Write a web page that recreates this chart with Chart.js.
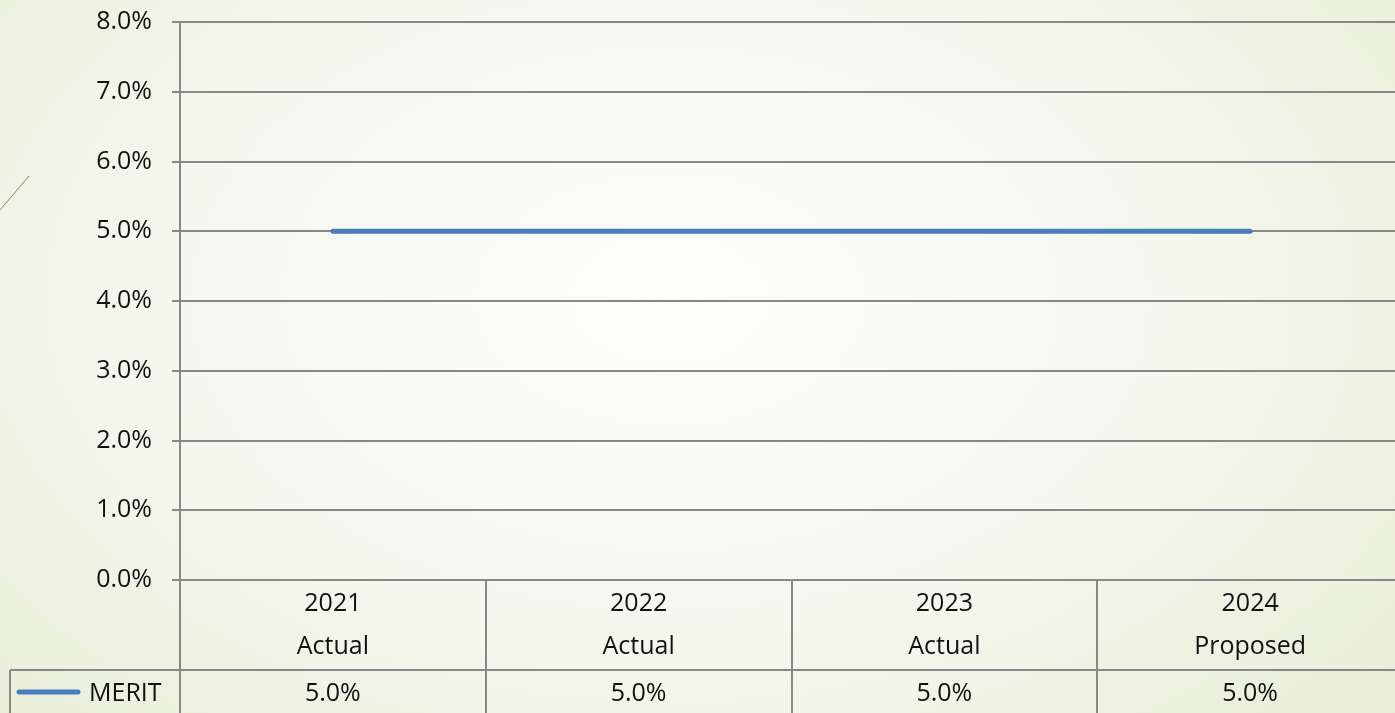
<!DOCTYPE html>
<html>
<head>
<meta charset="utf-8">
<script src="https://cdn.jsdelivr.net/npm/chart.js@4"></script>
<style>
  html, body { margin: 0; padding: 0; }
  body {
    width: 1395px; height: 713px; overflow: hidden;
    background: radial-gradient(ellipse 75% 95% at 48% 42%, #fefefd 0%, #f6f8ef 45%, #e6ebd4 100%);
  }
  canvas { display: block; }
</style>
</head>
<body>
<canvas id="chartmerit" width="1403" height="713"></canvas>
<script>
// chart data
var categories = [['2021', 'Actual'], ['2022', 'Actual'], ['2023', 'Actual'], ['2024', 'Proposed']];
var seriesName = 'MERIT';
var meritValues = [0.05, 0.05, 0.05, 0.05];
var yMin = 0, yMax = 0.08, yStep = 0.01;

var gridGray = '#888888';
var lineBlue = '#4a7ebb';
var fontFam = '"Open Sans", "DejaVu Sans", sans-serif';

function pct(v) { return (v * 100).toFixed(1) + '%'; }

/* slide decoration + data table row */
var tablePlugin = {
    id: 'meritTable',
    beforeDraw: function (chart) {
        var c = chart.ctx;
        c.save();
        c.strokeStyle = '#8c8470';
        c.lineWidth = 1;
        c.beginPath();
        c.moveTo(0, 210);
        c.lineTo(29, 176);
        c.stroke();
        c.restore();
    },
    afterDraw: function (chart) {
        var c = chart.ctx;
        var x = chart.scales.x;
        var rowTop = 670, rowMid = 694;
        c.save();
        c.strokeStyle = gridGray;
        c.lineWidth = 2;
        c.beginPath();
        c.moveTo(10, rowTop);
        c.lineTo(chart.width, rowTop);
        c.moveTo(10, rowTop);
        c.lineTo(10, chart.height);
        c.stroke();

        // legend key
        var ds = chart.data.datasets[0];
        c.strokeStyle = ds.borderColor;
        c.lineWidth = 5;
        c.lineCap = 'round';
        c.beginPath();
        c.moveTo(19, 692);
        c.lineTo(78, 692);
        c.stroke();

        c.fillStyle = '#111';
        c.font = '25px ' + fontFam;
        c.textBaseline = 'middle';
        c.textAlign = 'left';
        c.fillText(ds.label, 89, rowMid);

        c.textAlign = 'center';
        ds.data.forEach(function (v, i) {
            c.fillText(pct(v), x.getPixelForValue(i), rowMid);
        });
        c.restore();
    }
};

var ctx = document.getElementById('chartmerit');

var meritChart = new Chart(ctx, {
    type: 'line',
    data: {
        labels: categories,
        datasets: [{
            label: seriesName,
            data: meritValues,
            borderColor: lineBlue,
            borderWidth: 5,
            borderCapStyle: 'round',
            pointRadius: 0,
            fill: false
        }]
    },
    options: {
        responsive: false,
        animation: false,
        layout: { padding: { top: 22, left: 0, right: 0, bottom: 0 } },
        plugins: {
            legend: { display: false },
            tooltip: { enabled: false }
        },
        scales: {
            x: {
                offset: true,
                afterFit: function (s) { s.height = 133; s.paddingLeft = 0; s.paddingRight = 0; },
                grid: {
                    offset: true,
                    drawOnChartArea: false,
                    drawTicks: true,
                    tickLength: 133,
                    color: gridGray,
                    lineWidth: 2
                },
                border: { display: false },
                ticks: {
                    padding: -131,
                    maxRotation: 0,
                    autoSkip: false,
                    color: '#111',
                    font: { family: fontFam, size: 25, lineHeight: 1.72 }
                }
            },
            y: {
                min: yMin,
                max: yMax,
                afterFit: function (s) { s.width = 180; s.paddingTop = 0; s.paddingBottom = 0; },
                grid: {
                    color: gridGray,
                    lineWidth: 2,
                    tickLength: 8
                },
                border: { display: true, color: gridGray, width: 2 },
                ticks: {
                    stepSize: yStep,
                    padding: 20,
                    color: '#111',
                    font: { family: fontFam, size: 25 },
                    callback: function (v) { return pct(v); }
                }
            }
        }
    },
    plugins: [tablePlugin]
});
</script>
</body>
</html>
